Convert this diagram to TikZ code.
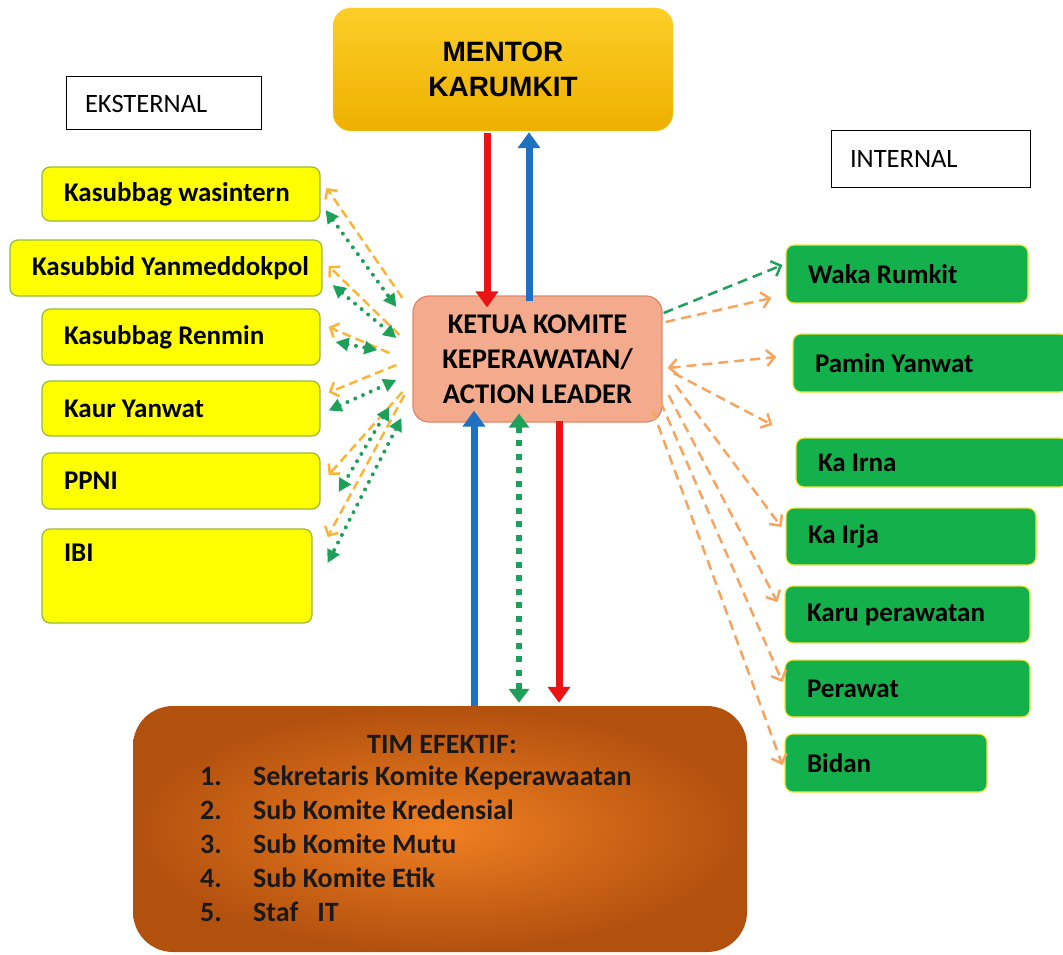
\documentclass[tikz,border=0pt]{standalone}
\usepackage{fontspec}
\setmainfont{Carlito}
\newfontfamily\arialfont{Liberation Sans}
\usetikzlibrary{arrows.meta,calc,positioning}
\definecolor{extyellow}{RGB}{255,255,0}
\definecolor{extborder}{RGB}{150,185,60}
\definecolor{intgreen}{RGB}{20,176,75}
\definecolor{intborder}{RGB}{240,230,60}
\definecolor{mentortop}{RGB}{252,206,40}
\definecolor{mentorbot}{RGB}{238,176,0}
\definecolor{ketuafill}{RGB}{244,170,140}
\definecolor{ketuaborder}{RGB}{225,135,105}
\definecolor{timinner}{RGB}{240,128,34}
\definecolor{timouter}{RGB}{178,80,14}
\definecolor{arrred}{RGB}{235,20,20}
\definecolor{arrblue}{RGB}{30,112,192}
\definecolor{arrgreen}{RGB}{30,160,90}
\definecolor{arramber}{RGB}{247,182,55}
\definecolor{arrorange}{RGB}{245,165,95}
\tikzset{
	ext_box/.style={
		draw=extborder, fill=extyellow, line width=1.2,
		rounded corners=8, inner xsep=22, inner ysep=0,
		align=flush left, text=black,
		font=\fontsize{27}{30}\selectfont\bfseries
	},
	int_box/.style={
		draw=intborder, fill=intgreen, line width=1.2,
		rounded corners=8, inner xsep=22, inner ysep=0,
		align=flush left, text=black,
		font=\fontsize{27}{30}\selectfont\bfseries
	},
	label_box/.style={
		draw=black, fill=white, line width=1,
		inner xsep=19, inner ysep=0, align=flush left,
		font=\fontsize{26.5}{28}\selectfont
	},
}

\begin{document}
\begin{tikzpicture}[x=1pt, y=-1pt,
		mentor_box/.style={
			rounded corners=18, top color=mentortop, bottom color=mentorbot,
			draw=mentortop, align=center,
			font=\arialfont\fontsize{28}{35}\selectfont\bfseries
		},
		ketua_box/.style={
			rounded corners=16, fill=ketuafill, draw=ketuaborder, line width=1.2,
			align=center, font=\fontsize{28.5}{35}\selectfont\bfseries
		},
		tim_box/.style={
			rounded corners=40, shading=radial,
			inner color=timinner, outer color=timouter
		},
		tim_text/.style={font=\fontsize{28}{34}\selectfont\bfseries, text=black!90},
		ext_dash/.style={draw=arramber, line width=2.5, dash pattern=on 9pt off 5pt,
			-{Straight Barb[length=7pt,width=15pt]}},
		ext_dot/.style={draw=arrgreen, line width=4, line cap=round,
			dash pattern=on 0pt off 8.5pt,
			{Triangle[length=13pt,width=13pt]}-{Triangle[length=13pt,width=13pt]}},
		int_dash/.style={draw=arrorange, line width=2.5, dash pattern=on 10pt off 6pt,
			-{Straight Barb[length=8pt,width=16pt]}},
		main_arrow/.style={line width=7, -{Triangle[length=16pt,width=22pt]}},
		dot_arrow/.style={draw=arrgreen, line width=6, dash pattern=on 6pt off 7.5pt,
			{Triangle[length=14pt,width=20pt]}-{Triangle[length=14pt,width=20pt]}}]
	\useasboundingbox (0,0) rectangle (1063,955);

	% top and centre
	\node[mentor_box, minimum width=340, minimum height=123] (mentor) at (503,69.5) {MENTOR\\KARUMKIT};
	\node[ketua_box, minimum width=249, minimum height=126] (ketua) at (537.5,359) {KETUA KOMITE\\KEPERAWATAN/\\ACTION LEADER};
	\node[tim_box, minimum width=614, minimum height=246] (tim) at (440,829) {};
	\node[tim_text] (timtitle) at (442,745) {TIM EFEKTIF:};
	\node[tim_text, anchor=north west, inner sep=0, align=left] (timlist) at (200,761) {%
		\begin{tabular}{@{}p{53pt}@{}l@{}}
			1. & Sekretaris Komite Keperawaatan\\
			2. & Sub Komite Kredensial\\
			3. & Sub Komite Mutu\\
			4. & Sub Komite Etik\\
			5. & Staf\ \ \ IT
		\end{tabular}};

	\node[label_box, minimum width=195, minimum height=53, text width=157] (eksternal) at (163.5,103.5) {EKSTERNAL};
	\node[label_box, minimum width=199, minimum height=56, text width=161] (internal) at (930.5,159) {INTERNAL};

	% eksternal
	\node[ext_box, minimum width=278, minimum height=54, text width=234] (wasintern) at (181,194) {Kasubbag wasintern};
	\node[ext_box, minimum width=312, minimum height=56, text width=268] (yanmed) at (166,268) {\mbox{Kasubbid Yanmeddokpol}};
	\node[ext_box, minimum width=278, minimum height=56, text width=234] (renmin) at (181,337) {Kasubbag Renmin};
	\node[ext_box, minimum width=278, minimum height=55, text width=234] (kaur) at (181,408.5) {Kaur Yanwat};
	\node[ext_box, minimum width=278, minimum height=56, text width=234] (ppni) at (181,481) {PPNI};
	\node[ext_box, minimum width=270, minimum height=94, text width=226, text depth=46] (ibi) at (177,576) {IBI};

	% internal
	\node[int_box, minimum width=242, minimum height=58, text width=198] (waka) at (907,274) {Waka Rumkit};
	\node[int_box, minimum width=275, minimum height=58, text width=231] (pamin) at (930.5,363) {Pamin Yanwat};
	\node[int_box, minimum width=272, minimum height=49, text width=228] (irna) at (932,462.5) {Ka Irna};
	\node[int_box, minimum width=250, minimum height=57, text width=206] (irja) at (911,536.5) {Ka Irja};
	\node[int_box, minimum width=245, minimum height=57, text width=201] (karu) at (907.5,614.5) {Karu perawatan};
	\node[int_box, minimum width=245, minimum height=57, text width=201] (perawat) at (907.5,688.5) {Perawat};
	\node[int_box, minimum width=202, minimum height=58, text width=158] (bidan) at (886,763) {Bidan};

	% vertical arrows
	\draw[main_arrow, arrred] ($(mentor.south)+(-16,2)$) -- ($(ketua.north)+(-50.5,12)$);
	\draw[main_arrow, arrblue] ($(ketua.north)+(-8.5,6)$) -- ($(mentor.south)+(26,1)$);
	\draw[main_arrow, arrblue] ($(tim.north)+(34,0)$) -- ($(ketua.south)+(-63.5,-12)$);
	\draw[dot_arrow] ($(ketua.south)+(-18.5,-9)$) -- ($(tim.north)+(79,-3)$);
	\draw[main_arrow, arrred] ($(ketua.south)+(21.5,-2)$) -- ($(tim.north)+(119,-3)$);

	% to eksternal
	\draw[ext_dash] ($(ketua.west)+(-10,-61)$) -- ($(wasintern.east)+(6,-6)$);
	\draw[ext_dot]  ($(wasintern.east)+(5,16)$) -- ($(ketua.west)+(-16,-52)$);
	\draw[ext_dash] ($(ketua.west)+(-13,-24)$) -- ($(yanmed.east)+(6,-2)$);
	\draw[ext_dot]  ($(yanmed.east)+(10,17)$) -- ($(ketua.west)+(-16,-21)$);
	\draw[ext_dash] ($(ketua.west)+(-23,-6)$) -- ($(renmin.east)+(8,-10)$);
	\draw[ext_dot]  ($(renmin.east)+(15,5)$) -- ($(ketua.west)+(-35,-9)$);
	\draw[ext_dash] ($(ketua.west)+(-16,6)$) -- ($(kaur.east)+(8,-16)$);
	\draw[ext_dot]  ($(kaur.east)+(8,2)$) -- ($(ketua.west)+(-16,21)$);
	\draw[ext_dash] ($(ketua.west)+(-10,33)$) -- ($(ppni.east)+(8,-6)$);
	\draw[ext_dot]  ($(ketua.west)+(-23,48)$) -- ($(ppni.east)+(18,11)$);
	\draw[ext_dash] ($(ketua.west)+(-8,36)$) -- ($(ibi.east)+(15,-39)$);
	\draw[ext_dot]  ($(ketua.west)+(-11,59)$) -- ($(ibi.east)+(15,-13)$);

	% to internal
	\draw[int_dash, draw=arrgreen] ($(ketua.east)+(1,-46)$) -- ($(waka.west)+(-3,-9)$);
	\draw[int_dash] ($(ketua.east)+(3,-37)$) -- ($(waka.west)+(-14,24)$);
	\draw[int_dash, {Straight Barb[length=8pt,width=16pt]}-{Straight Barb[length=8pt,width=16pt]}]
		($(ketua.east)+(5,9)$) -- ($(pamin.west)+(-16,-6)$);
	\draw[int_dash] ($(ketua.east)+(11,14)$) -- ($(irna.west)+(-23,-37.5)$);
	\draw[int_dash] ($(ketua.east)+(13,26)$) -- ($(irja.west)+(-4,-9.5)$);
	\draw[int_dash] ($(ketua.east)+(6,36)$) -- ($(karu.west)+(-7,-12.5)$);
	\draw[int_dash] ($(ketua.east)+(-2,43)$) -- ($(perawat.west)+(-2,-6.5)$);
	\draw[int_dash] ($(ketua.east)+(-10,51)$) -- ($(bidan.west)+(-2,2)$);
\end{tikzpicture}
\end{document}
